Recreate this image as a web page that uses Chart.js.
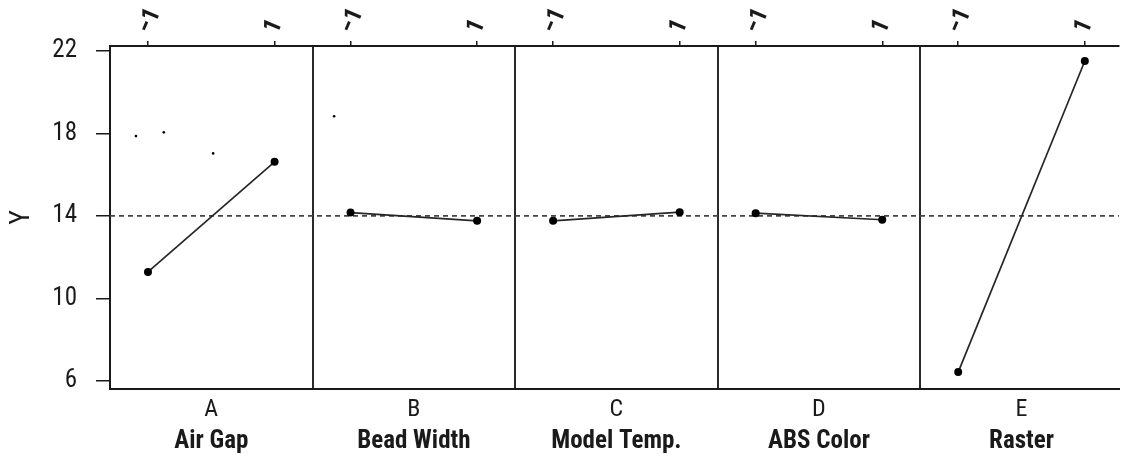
<!DOCTYPE html>
<html>
<head>
<meta charset="utf-8">
<script src="https://cdn.jsdelivr.net/npm/chart.js@4.4.1/dist/chart.umd.min.js"></script>
<style>
  html, body { margin: 0; padding: 0; background: #fff; }
  canvas { display: block; }
</style>
</head>
<body>
<canvas id="effects" width="1123" height="454"></canvas>
<script>
const factors = ["A", "B", "C", "D", "E"];
const factorNames = ["Air Gap", "Bead Width", "Model Temp.", "ABS Color", "Raster"];
const levels = [-1, 1];
const levelLabels = ["\u22121", "1"];
const lowMeans = [11.28, 14.16, 13.76, 14.13, 6.42];
const highMeans = [16.62, 13.76, 14.18, 13.81, 21.51];
const grandMean = 14;
const yTicks = [6, 10, 14, 18, 22];
// stray specks in the first two panels
const speckX = [-1.19, -0.75, 0.03, 1.94];
const speckY = [17.87, 18.05, 17.03, 18.83];

const PANEL = 3.2; // width of one factor panel, in x units
const HALF = PANEL / 2;
const X_MIN = -HALF;
const X_MAX = PANEL * factors.length - HALF - 0.06;
const FONT = "'Liberation Sans Narrow', 'Roboto Condensed', 'DejaVu Sans Condensed', 'Liberation Sans', sans-serif";
const INK = "#1a1a1a";

const centers = factors.map((f, k) => k * PANEL);
const levelTicks = factors.flatMap((f, k) => levels.map((l) => k * PANEL + l));
const dividers = factors.slice(1).map((f, k) => k * PANEL + HALF);

function fixedTicks(values) {
  return (scale) => {
    scale.ticks = values.map((v) => ({ value: v }));
  };
}
function fixedSize(prop, size) {
  return (scale) => {
    scale[prop] = size;
  };
}

const datasets = factors.map((f, k) => ({
  label: f,
  showLine: true,
  data: levels.map((l, i) => ({ x: k * PANEL + l, y: [lowMeans, highMeans][i][k] })),
  borderColor: "#262626",
  borderWidth: 1.7,
  pointRadius: 4,
  pointBackgroundColor: "#000",
  pointBorderWidth: 0,
}));

datasets.push({
  label: "mean",
  showLine: true,
  data: [
    { x: X_MIN, y: grandMean },
    { x: X_MAX, y: grandMean },
  ],
  borderColor: "#444",
  borderWidth: 1.6,
  borderDash: [5, 4],
  pointRadius: 0,
});

datasets.push({
  label: "specks",
  data: speckX.map((x, i) => ({ x: x, y: speckY[i] })),
  pointRadius: 1.3,
  pointBackgroundColor: "#000",
  pointBorderWidth: 0,
});

Chart.defaults.color = INK;
Chart.defaults.font.family = FONT;

new Chart(document.getElementById("effects"), {
  type: "scatter",
  data: { datasets: datasets },
  options: {
    responsive: false,
    animation: false,
    events: [],
    layout: { padding: 0 },
    plugins: { legend: { display: false }, tooltip: { enabled: false } },
    scales: {
      x: {
        type: "linear",
        position: "top",
        min: X_MIN,
        max: X_MAX,
        afterBuildTicks: fixedTicks(levelTicks),
        afterFit: fixedSize("height", 46),
        grid: { drawOnChartArea: false, tickLength: 5, color: INK, lineWidth: 1.5 },
        border: { color: INK, width: 2 },
        ticks: {
          autoSkip: false,
          minRotation: 67,
          maxRotation: 67,
          padding: 8,
          // tight line height keeps the rotated label on its tick
          font: { size: 25, weight: "bold", lineHeight: 0.13 },
          callback: (v, i) => levelLabels[i % 2],
        },
      },
      xSep: {
        type: "linear",
        position: "bottom",
        min: X_MIN,
        max: X_MAX,
        afterBuildTicks: fixedTicks(dividers),
        afterFit: fixedSize("height", 0),
        grid: { drawOnChartArea: true, drawTicks: false, color: "#2a2a2a", lineWidth: 2 },
        border: { display: false },
        ticks: { display: false },
      },
      xLetter: {
        type: "linear",
        position: "bottom",
        min: X_MIN,
        max: X_MAX,
        afterBuildTicks: fixedTicks(centers),
        afterFit: fixedSize("height", 37),
        grid: { display: false },
        border: { display: true, color: INK, width: 2 },
        ticks: {
          autoSkip: false,
          padding: -1,
          font: { size: 24 },
          callback: (v, i) => factors[i],
        },
      },
      xName: {
        type: "linear",
        position: "bottom",
        min: X_MIN,
        max: X_MAX,
        afterBuildTicks: fixedTicks(centers),
        afterFit: fixedSize("height", 28),
        grid: { display: false },
        border: { display: false },
        ticks: {
          autoSkip: false,
          padding: -7,
          font: { size: 25, weight: "bold" },
          callback: (v, i) => factorNames[i],
        },
      },
      y: {
        type: "linear",
        position: "left",
        min: 5.6,
        max: 22.24,
        afterBuildTicks: fixedTicks(yTicks),
        afterFit: fixedSize("width", 110),
        grid: { drawOnChartArea: false, tickLength: 14, color: INK, lineWidth: 1.5 },
        border: { color: INK, width: 2 },
        ticks: { padding: 19, font: { size: 25 } },
        title: { display: true, text: "Y", font: { size: 28 }, padding: { top: 5, bottom: 0 } },
      },
    },
  },
});
</script>
</body>
</html>
